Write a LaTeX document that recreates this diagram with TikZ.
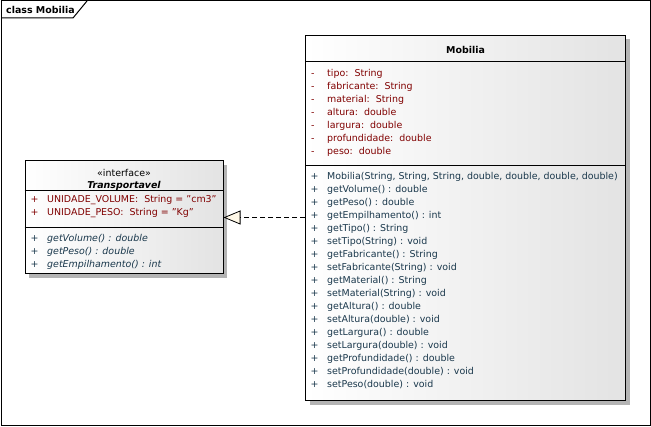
\documentclass[tikz,border=0pt]{standalone}
\usepackage{fontspec}
\setmainfont{DejaVu Sans}
\usetikzlibrary{arrows.meta,shadows}
\definecolor{attrred}{RGB}{128,0,0}
\definecolor{opblue}{RGB}{25,55,75}
\definecolor{shadowgray}{RGB}{180,180,180}
\definecolor{tipfill}{RGB}{255,248,232}
\newcommand{\dq}{\char34 }
\tikzset{
  classbox/.style={draw=black, line width=1pt, left color=white, right color=black!11,
    drop shadow={shadow xshift=4pt, shadow yshift=-4pt, fill=shadowgray, opacity=1},
    inner sep=0pt},
  sep/.style={line width=1pt},
  txt/.style={anchor=base west, inner sep=0pt, font=\fontsize{9.45}{13}\selectfont},
  attr/.style={txt, text=attrred},
  oper/.style={txt, text=opblue},
  real/.style={dashed, dash pattern=on 5pt off 3pt, line width=0.8pt,
    -{Triangle[length=17pt, width=14pt, fill=tipfill, line width=0.8pt]}}
}
\begin{document}
\begin{tikzpicture}[x=1pt, y=-1pt]
\useasboundingbox (0,0) rectangle (651,427);
% frame
\draw[line width=1pt] (1,1) rectangle (650,426);
\draw[line width=1pt] (1,18) -- (73,18) -- (87,1);
\node[anchor=base west, inner sep=0pt, font=\fontsize{9.45}{13}\selectfont\bfseries] (title) at (6,13.5) {class Mobilia};

% Mobilia class
\node[classbox, minimum width=320pt, minimum height=365.5pt] (mob) at (465.5,218.25) {};
\draw[sep] (mob.west |- 0,62) -- (mob.east |- 0,62);
\draw[sep] (mob.west |- 0,166) -- (mob.east |- 0,166);
\node[txt, anchor=base, font=\fontsize{9.45}{13}\selectfont\bfseries] (mobname) at (465.5,53.5) {Mobilia};
\foreach \t [count=\i] in {{tipo:\ \ String},{fabricante:\ \ String},{material:\ \ String},{altura:\ \ double},{largura:\ \ double},{profundidade:\ \ double},{peso:\ \ double}}{
  \node[attr] (ms\i) at (311,{76.5+13*(\i-1)}) {-};
  \node[attr] (ma\i) at (327,{76.5+13*(\i-1)}) {\t};
}
\foreach \t [count=\i] in {{Mobilia(String, String, String, double, double, double, double)},{getVolume() : double},{getPeso() : double},{getEmpilhamento() : int},{getTipo() : String},{setTipo(String) : void},{getFabricante() : String},{setFabricante(String) : void},{getMaterial() : String},{setMaterial(String) : void},{getAltura() : double},{setAltura(double) : void},{getLargura() : double},{setLargura(double) : void},{getProfundidade() : double},{setProfundidade(double) : void},{setPeso(double) : void}}{
  \node[oper] (mp\i) at (310.5,{179.5+13*(\i-1)}) {+};
  \node[oper] (mo\i) at (327,{179.5+13*(\i-1)}) {\t};
}

% Transportavel interface
\node[classbox, minimum width=198pt, minimum height=113pt] (tr) at (124,217.5) {};
\draw[sep] (tr.west |- 0,191) -- (tr.east |- 0,191);
\draw[sep] (tr.west |- 0,228) -- (tr.east |- 0,228);
\node[txt, anchor=base] (stereo) at (124,176.5) {«interface»};
\node[txt, anchor=base, font=\fontsize{9.45}{13}\selectfont\bfseries\itshape] (trname) at (124,188.5) {Transportavel};
\foreach \t [count=\i] in {{UNIDADE\_VOLUME:\ \ String = \dq cm3\dq},{UNIDADE\_PESO:\ \ String = \dq Kg\dq}}{
  \node[attr] (ts\i) at (30.5,{202.5+13*(\i-1)}) {+};
  \node[attr] (ta\i) at (47,{202.5+13*(\i-1)}) {\t};
}
\foreach \t [count=\i] in {{getVolume() : double},{getPeso() : double},{getEmpilhamento() : int}}{
  \node[oper] (tp\i) at (30.5,{241.5+13*(\i-1)}) {+};
  \node[oper, font=\fontsize{9.45}{13}\selectfont\itshape] (to\i) at (47,{241.5+13*(\i-1)}) {\t};
}

% realization
\draw[real] (mob.west |- tr.east) -- (tr.east);
\end{tikzpicture}
\end{document}
